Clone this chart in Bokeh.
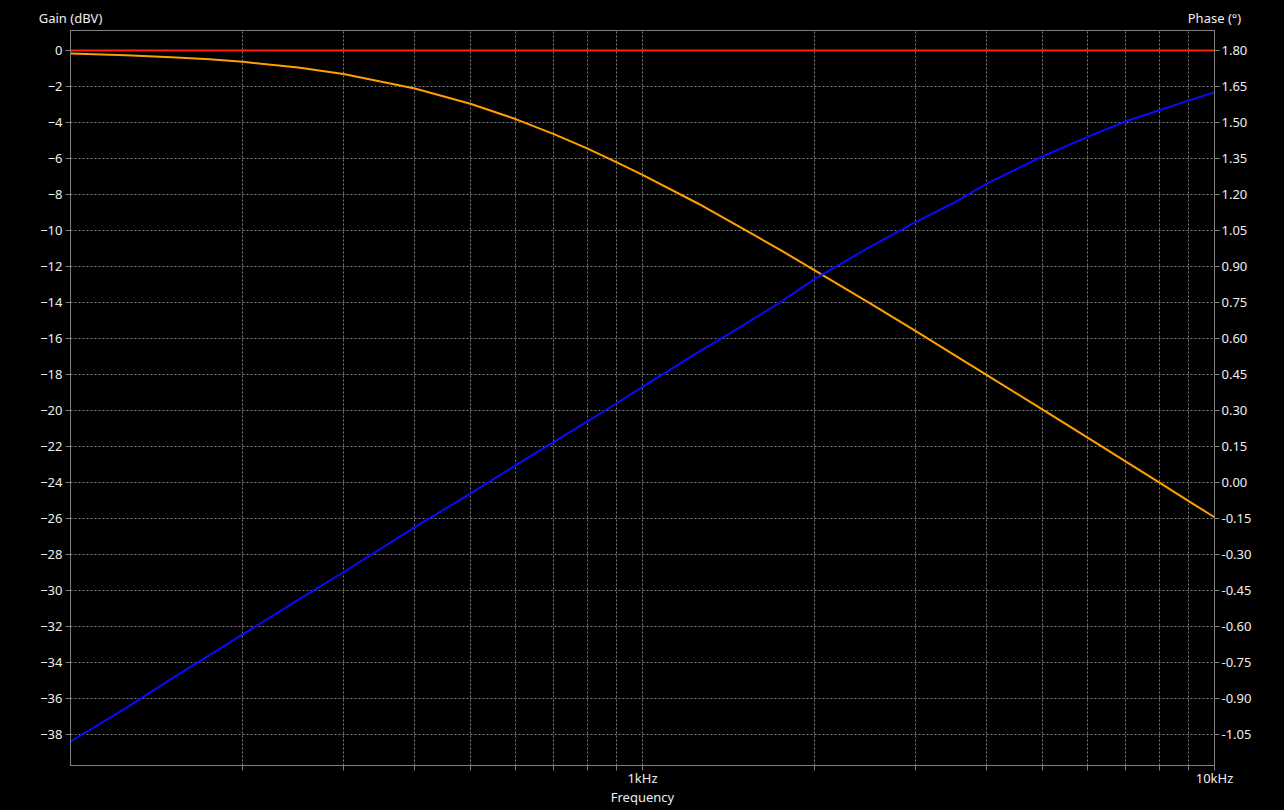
from bokeh.plotting import figure
from bokeh.layouts import column
from bokeh.models import Range1d, LinearAxis, FixedTicker, NumeralTickFormatter, CustomJSTickFormatter
from bokeh.core.properties import value
from bokeh.embed import file_html
from bokeh.resources import INLINE

# ---- data ----
freq_hz = [100, 125, 150, 175, 200, 250, 300, 400, 500, 600, 700, 800, 900, 1000,
           1250, 1500, 1750, 2000, 2500, 3000, 3500, 4000, 5000, 6000, 7000, 8000, 9000, 10000]
gain_dbv = [-0.17, -0.26, -0.37, -0.49, -0.63, -0.95, -1.31, -2.11, -2.96, -3.81, -4.65, -5.44, -6.20, -6.91,
            -8.50, -9.91, -11.12, -12.21, -14.05, -15.58, -16.89, -18.03, -19.94, -21.51, -22.84, -23.99, -25.02, -25.93]
phase_deg = [-1.079, -0.940, -0.818, -0.719, -0.633, -0.489, -0.374, -0.186, -0.046, 0.071, 0.169, 0.254, 0.329, 0.398,
             0.542, 0.655, 0.754, 0.848, 0.982, 1.085, 1.165, 1.245, 1.358, 1.440, 1.505, 1.551, 1.591, 1.626]
ref_freq = [100, 10000]
ref_gain = [0.0, 0.0]

gain_ticks = [-38, -36, -34, -32, -30, -28, -26, -24, -22, -20, -18, -16, -14, -12, -10, -8, -6, -4, -2, 0]
phase_ticks = [-1.05, -0.90, -0.75, -0.60, -0.45, -0.30, -0.15, 0.0, 0.15, 0.30, 0.45, 0.60, 0.75, 0.90,
               1.05, 1.20, 1.35, 1.50, 1.65, 1.80]
freq_major = [1000, 10000]
freq_minor = [200, 300, 400, 500, 600, 700, 800, 900, 2000, 3000, 4000, 5000, 6000, 7000, 8000, 9000]
axis_titles = ["Gain (dBV)", "Phase (°)"]

GRAY = "#808080"
TXT = "#eeeeee"
FONT = "Noto Sans"
FS = "13px"
W = 1284
HEAD_H = 26

# ---- header strip holding the two axis titles ----
head = figure(width=W, height=HEAD_H, x_range=Range1d(0, W), y_range=Range1d(0, HEAD_H),
              output_backend="svg", toolbar_location=None,
              x_axis_location=None, y_axis_location=None,
              background_fill_color="black", border_fill_color="black",
              min_border=0, outline_line_color=None)
aligned = True
try:
    head.frame_align = False
    aligned = False
except AttributeError:
    pass
head.xgrid.visible = False
head.ygrid.visible = False
if aligned:
    head.x_range = Range1d(70, 1214)
    head.min_border_left = 70
    head.min_border_right = 70
head.text(x=[70, 1214], y=[9, 9], text=axis_titles, text_align="center", text_baseline="middle",
          text_color=TXT, text_font=value(FONT), text_font_size=FS)

# ---- main chart ----
p = figure(width=W, height=810 - HEAD_H, x_axis_type="log",
           x_range=Range1d(100, 10000), y_range=Range1d(-39.72, 1.11),
           output_backend="svg", toolbar_location=None,
           background_fill_color="black", border_fill_color="black",
           min_border_left=70, min_border_right=70, min_border_top=30 - HEAD_H, min_border_bottom=45,
           outline_line_color=GRAY)
p.extra_y_ranges = {"phase": Range1d(-1.179, 1.883)}

xa = p.xaxis[0]
xa.ticker = FixedTicker(ticks=freq_major, minor_ticks=freq_minor)
xa.formatter = CustomJSTickFormatter(code="return tick >= 1000 ? (tick/1000) + 'kHz' : tick + 'Hz';")
xa.axis_label = "Frequency"
ya = p.yaxis[0]
ya.ticker = FixedTicker(ticks=gain_ticks)
ra = LinearAxis(y_range_name="phase", ticker=FixedTicker(ticks=phase_ticks),
                formatter=NumeralTickFormatter(format="0.00"))
p.add_layout(ra, "right")

for ax in (xa, ya, ra):
    ax.axis_line_color = GRAY
    ax.major_tick_line_color = GRAY
    ax.minor_tick_line_color = GRAY
    ax.major_tick_out = 5
    ax.major_tick_in = 0
    ax.minor_tick_out = 5
    ax.minor_tick_in = 0
    ax.major_label_text_color = TXT
    ax.major_label_text_font = FONT
    ax.major_label_text_font_size = FS
    ax.axis_label_text_color = TXT
    ax.axis_label_text_font = FONT
    ax.axis_label_text_font_size = FS
    ax.axis_label_text_font_style = "normal"
ya.minor_tick_line_color = None
ra.minor_tick_line_color = None
xa.major_label_standoff = -2
xa.axis_label_standoff = -2
ya.major_label_standoff = 3
ra.major_label_standoff = 2

p.xgrid.grid_line_color = GRAY
p.xgrid.grid_line_dash = "2 2"
p.xgrid.minor_grid_line_color = GRAY
p.xgrid.minor_grid_line_dash = "2 2"
p.ygrid.grid_line_color = GRAY
p.ygrid.grid_line_dash = "2 2"

p.line(ref_freq, ref_gain, line_color="#ff2010", line_width=2)
p.line(freq_hz, gain_dbv, line_color="#ffa000", line_width=2)
p.line(freq_hz, phase_deg, line_color="#0a0aff", line_width=2, y_range_name="phase")

layout = column(head, p, spacing=0)
html = file_html(layout, INLINE)
html = html.replace("</head>", "<style>html,body{margin:0;padding:0;background:#000;overflow:hidden;}</style></head>", 1)
open("out.html", "w").write(html)
